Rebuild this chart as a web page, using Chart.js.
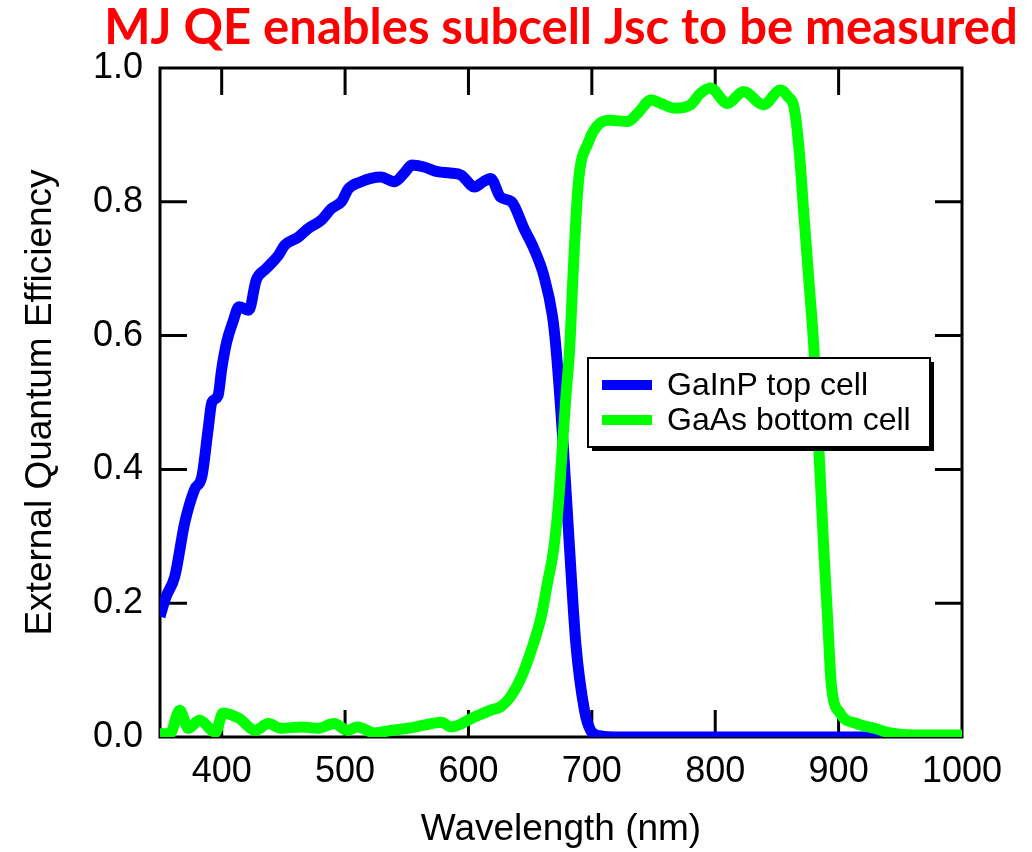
<!DOCTYPE html>
<html>
<head>
<meta charset="utf-8">
<script src="https://cdn.jsdelivr.net/npm/chart.js@4.4.0/dist/chart.umd.min.js"></script>
<style>
  body { margin: 0; background: #fff; }
  #wrap { width: 1032px; height: 852px; }
</style>
</head>
<body>
<div id="wrap"><canvas id="qe-chart" width="1032" height="852"></canvas></div>
<script>
const chartTitle = "MJ QE enables subcell Jsc to be measured";
const seriesNames = ["GaInP top cell", "GaAs bottom cell"];
const xTicks = [400, 500, 600, 700, 800, 900, 1000];
const yTicks = [0, 0.2, 0.4, 0.6, 0.8, 1.0];

// GaInP top cell (blue)
const gainpWl = [350, 355, 362, 370, 378, 384, 389, 392, 397, 400, 404, 409, 414, 422, 428, 436, 446, 451, 462,
    470, 481, 489, 497, 503, 513, 521, 529, 540, 548, 554, 564, 575, 585, 594, 605, 612, 618, 626, 635, 645,
    653, 661, 668, 671, 677, 682, 687, 694, 699, 706, 720, 800, 900, 990];
const gainpQe = [0.18, 0.21, 0.24, 0.32, 0.37, 0.39, 0.46, 0.50, 0.51, 0.55, 0.59, 0.62, 0.643, 0.638, 0.683, 0.70, 0.72, 0.735, 0.747,
    0.76, 0.773, 0.79, 0.80, 0.82, 0.83, 0.835, 0.837, 0.83, 0.843, 0.855, 0.852, 0.845, 0.843, 0.84, 0.822, 0.83, 0.835, 0.807, 0.80, 0.76,
    0.73, 0.69, 0.63, 0.58, 0.43, 0.28, 0.14, 0.04, 0.01, 0.002, 0.0, 0.0, 0.0, 0.0];

// GaAs bottom cell (green)
const gaasWl = [350, 358, 366, 373, 382, 395, 401, 414, 427, 438, 448, 465, 478, 491, 502, 510, 524, 538, 551, 565,
    578, 586, 605, 618, 626, 634, 643, 651, 659, 664, 669, 673, 676, 679, 682, 685, 689, 697, 707, 715, 729, 737,
    748, 756, 767, 780, 788, 796, 810, 823, 839, 853, 859, 864, 868, 872, 876, 880, 884, 888, 891, 894,
    901, 915, 929, 942, 961, 988, 1000];
const gaasQe = [0.005, 0.005, 0.04, 0.013, 0.025, 0.007, 0.036, 0.028, 0.01, 0.02, 0.013, 0.015, 0.013, 0.02, 0.01, 0.015, 0.006, 0.01, 0.013, 0.018,
    0.022, 0.015, 0.03, 0.04, 0.045, 0.06, 0.09, 0.13, 0.18, 0.23, 0.28, 0.35, 0.43, 0.51, 0.58, 0.70, 0.827, 0.888, 0.918, 0.922, 0.92, 0.932,
    0.952, 0.947, 0.94, 0.945, 0.962, 0.97, 0.947, 0.965, 0.945, 0.967, 0.957, 0.94, 0.877, 0.777, 0.68, 0.58, 0.43, 0.28, 0.18, 0.08,
    0.036, 0.02, 0.013, 0.006, 0.003, 0.003, 0.003];

const blue = "#0000ff";
const green = "#00ff00";
const axisFont = "Liberation Sans, Arial, Helvetica, sans-serif";

function toPoints(xs, ys) {
    return xs.map((x, i) => ({ x: x, y: ys[i] }));
}

// frame + inward ticks on all four sides, drawn under the curves
const framePlugin = {
    id: "frame",
    beforeDatasetsDraw(chart) {
        const { ctx, chartArea: a, scales } = chart;
        const len = 27;
        ctx.save();
        ctx.strokeStyle = "#000";
        ctx.lineWidth = 3;
        ctx.strokeRect(a.left, a.top, a.right - a.left, a.bottom - a.top);
        ctx.beginPath();
        xTicks.forEach(v => {
            const px = scales.x.getPixelForValue(v);
            if (px >= a.right - 1) return;
            ctx.moveTo(px, a.top); ctx.lineTo(px, a.top + len);
            ctx.moveTo(px, a.bottom); ctx.lineTo(px, a.bottom - len);
        });
        yTicks.forEach(v => {
            const py = scales.y.getPixelForValue(v);
            if (py <= a.top + 1 || py >= a.bottom - 1) return;
            ctx.moveTo(a.left, py); ctx.lineTo(a.left + len, py);
            ctx.moveTo(a.right, py); ctx.lineTo(a.right - len, py);
        });
        ctx.stroke();
        ctx.restore();
    }
};

const overlayPlugin = {
    id: "overlay",
    afterDraw(chart) {
        const ctx = chart.ctx;
        ctx.save();
        // title
        ctx.fillStyle = "#ff0000";
        ctx.font = "bold 49px Lato, 'Open Sans', sans-serif";
        ctx.textAlign = "center";
        ctx.textBaseline = "alphabetic";
        ctx.fillText(chartTitle, 561, 44, 918);

        // legend box with drop shadow
        const bx = 588, by = 358, bw = 342, bh = 89;
        ctx.fillStyle = "#000";
        ctx.fillRect(bx + 4, by + 4, bw, bh);
        ctx.fillStyle = "#fff";
        ctx.fillRect(bx, by, bw, bh);
        ctx.strokeStyle = "#000";
        ctx.lineWidth = 2;
        ctx.strokeRect(bx, by, bw, bh);

        const colors = [blue, green];
        ctx.font = "32px " + axisFont;
        ctx.textAlign = "left";
        ctx.textBaseline = "middle";
        seriesNames.forEach((name, i) => {
            const y = 385 + i * 35;
            ctx.fillStyle = colors[i];
            ctx.fillRect(602, y - 5, 50, 10);
            ctx.fillStyle = "#000";
            ctx.fillText(name, 667, y + 1, 252);
        });
        ctx.restore();
    }
};

const ctx = document.getElementById("qe-chart");
new Chart(ctx, {
    type: "line",
    data: {
        datasets: [{
            label: seriesNames[0],
            data: toPoints(gainpWl, gainpQe),
            borderColor: blue,
            borderWidth: 11,
            order: 2
        }, {
            label: seriesNames[1],
            data: toPoints(gaasWl, gaasQe),
            borderColor: green,
            borderWidth: 11,
            order: 1
        }]
    },
    options: {
        responsive: false,
        animation: false,
        devicePixelRatio: 1,
        layout: { padding: { top: 68, right: 70, left: 0, bottom: 0 } },
        elements: {
            point: { radius: 0 },
            line: { cubicInterpolationMode: "monotone", borderJoinStyle: "round", fill: false }
        },
        plugins: {
            legend: { display: false },
            title: { display: false },
            tooltip: { enabled: false }
        },
        scales: {
            x: {
                type: "linear",
                min: 350,
                max: 1000,
                afterBuildTicks: s => { s.ticks = xTicks.map(v => ({ value: v })); },
                afterFit: s => { s.height = 115; },
                grid: { display: false, drawTicks: false },
                border: { display: false },
                ticks: {
                    padding: 13,
                    color: "#000",
                    maxRotation: 0,
                    callback: v => String(v),
                    font: { family: axisFont, size: 36 }
                },
                title: {
                    display: true,
                    text: "Wavelength (nm)",
                    color: "#000",
                    padding: { top: 0, bottom: 0 },
                    font: { family: axisFont, size: 37 }
                }
            },
            y: {
                min: 0,
                max: 1,
                afterBuildTicks: s => { s.ticks = yTicks.map(v => ({ value: v })); },
                afterFit: s => { s.width = 160; },
                grid: { display: false, drawTicks: false },
                border: { display: false },
                ticks: {
                    padding: 17,
                    color: "#000",
                    callback: v => v.toFixed(1),
                    font: { family: axisFont, size: 36 }
                },
                title: {
                    display: true,
                    text: "External Quantum Efficiency",
                    color: "#000",
                    padding: { top: 19, bottom: 0 },
                    font: { family: axisFont, size: 37 }
                }
            }
        }
    },
    plugins: [framePlugin, overlayPlugin]
});
</script>
</body>
</html>
